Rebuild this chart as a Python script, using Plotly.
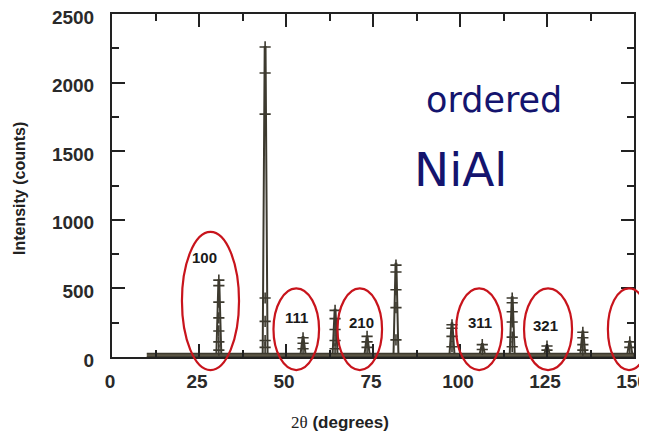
import plotly.graph_objects as go

# ---------------- data ----------------
peak_pos = [30.7, 44.0, 54.9, 64.1, 73.3, 81.6, 97.7, 106.4, 115.0, 125.0, 135.3, 148.8]
peak_height = [560, 2260, 145, 345, 150, 680, 245, 95, 435, 85, 185, 115]
cross_levels = [
    [560, 520, 400, 285, 190, 110, 50],
    [2260, 2070, 1770, 430, 260, 120, 70],
    [140, 100, 60],
    [340, 280, 200, 120, 60],
    [150, 110, 70],
    [670, 620, 490, 360, 125],
    [235, 210, 150, 75],
    [90, 55],
    [430, 395, 330, 255, 145, 75],
    [80, 50],
    [180, 140, 90, 50],
    [110, 70],
]
background_start = 10
background_end = 150
background_level = 25
half_width = 0.7

hkl_labels = ["100", "111", "210", "311", "321"]
hkl_label_x = [26.7, 53.0, 71.6, 105.7, 124.7]
hkl_label_y = [722, 285, 255, 255, 226]

# ellipses (data units): x0, x1, y0, y1
ellipses = [
    (20.1, 36.5, -95, 912),
    (46.4, 59.5, -95, 500),
    (64.8, 77.6, -95, 500),
    (98.9, 112.1, -95, 500),
    (118.4, 132.2, -95, 500),
    (142.5, 154.6, -95, 500),
]

x_ticks = [0, 25, 50, 75, 100, 125, 150]
y_ticks = [0, 500, 1000, 1500, 2000, 2500]
X_RANGE = [0, 150]
Y_RANGE = [0, 2500]

ink = "#3d3a2f"

fig = go.Figure()

# background band
fig.add_trace(go.Scatter(
    x=[background_start, background_end, background_end, background_start],
    y=[0, 0, background_level, background_level],
    fill="toself", fillcolor="#5a5545", mode="lines",
    line=dict(color=ink, width=1.5), hoverinfo="skip", showlegend=False))

# peak profiles
px, py = [], []
for p, h in zip(peak_pos, peak_height):
    px += [p - half_width, p - 0.12, p + 0.12, p + half_width, None]
    py += [background_level, h, h, background_level, None]
fig.add_trace(go.Scatter(x=px, y=py, mode="lines",
                         line=dict(color=ink, width=2),
                         hoverinfo="skip", showlegend=False))

# observed points (crosses)
cx, cy = [], []
for p, levels in zip(peak_pos, cross_levels):
    for lv in levels:
        cx.append(p)
        cy.append(lv)
fig.add_trace(go.Scatter(x=cx, y=cy, mode="markers",
                         marker=dict(symbol="cross-thin", size=8,
                                     line=dict(color=ink, width=1.6)),
                         hoverinfo="skip", showlegend=False))

# ellipses in paper coords (so they are not clipped)
for x0, x1, y0, y1 in ellipses:
    fig.add_shape(type="circle", xref="paper", yref="paper",
                  x0=(x0 - X_RANGE[0]) / (X_RANGE[1] - X_RANGE[0]),
                  x1=(x1 - X_RANGE[0]) / (X_RANGE[1] - X_RANGE[0]),
                  y0=(y0 - Y_RANGE[0]) / (Y_RANGE[1] - Y_RANGE[0]),
                  y1=(y1 - Y_RANGE[0]) / (Y_RANGE[1] - Y_RANGE[0]),
                  line=dict(color="#c8141c", width=2.2))

for lab, lx, ly in zip(hkl_labels, hkl_label_x, hkl_label_y):
    fig.add_annotation(x=lx, y=ly, text=lab, showarrow=False,
                       font=dict(family="Liberation Sans", size=15,
                                 color="#1a1a1a", weight="bold"))

fig.add_annotation(x=109.8, y=1876, text="ordered", showarrow=False,
                   xanchor="center", yanchor="middle",
                   font=dict(family="DejaVu Sans", size=35, color="#14146e"))
fig.add_annotation(x=100, y=1365, text="NiAl", showarrow=False,
                   xanchor="center", yanchor="middle",
                   font=dict(family="DejaVu Sans", size=47, color="#14146e"))

# axis titles
fig.add_annotation(xref="paper", yref="paper", x=-0.176, y=0.49,
                   xanchor="center", yanchor="middle",
                   text="Intensity (counts)", textangle=-90, showarrow=False,
                   font=dict(family="Liberation Sans", size=16,
                             color="#222", weight="bold"))
fig.add_annotation(xref="paper", yref="paper", x=0.437, y=-0.19,
                   xanchor="center", yanchor="middle",
                   text="<span style='font-family:Liberation Serif'>2θ</span> <b>(degrees)</b>",
                   showarrow=False,
                   font=dict(family="Liberation Sans", size=17, color="#222"))

axis_common = dict(
    showgrid=False, zeroline=False, showline=True, linecolor="#222",
    linewidth=2, mirror="ticks", ticks="inside", tickcolor="#222",
    tickwidth=2, ticklen=13, automargin=False, ticklabeloverflow="allow",
    tickfont=dict(family="Liberation Sans", size=19, color="#2a2a2a",
                  weight="bold"),
)

fig.update_xaxes(range=X_RANGE, tickvals=x_ticks,
                 minor=dict(tickvals=[12.5, 37.5, 62.5, 87.5, 112.5, 137.5],
                            ticks="inside", ticklen=7, tickwidth=2,
                            tickcolor="#222"),
                 ticklabelstandoff=6, ticklabelshift=-2, **axis_common)
fig.update_yaxes(range=Y_RANGE, tickvals=y_ticks,
                 minor=dict(tickvals=[250, 750, 1250, 1750, 2250],
                            ticks="inside", ticklen=7, tickwidth=2,
                            tickcolor="#222"),
                 ticklabelstandoff=12, ticklabelshift=3, **axis_common)

# page body has an 8px margin; compensate so the plot lands where the reference has it
fig.update_layout(width=639, height=425,
                  margin=dict(l=104, r=13, t=6, b=76),
                  paper_bgcolor="white", plot_bgcolor="white",
                  showlegend=False)

fig.write_html("out.html")
